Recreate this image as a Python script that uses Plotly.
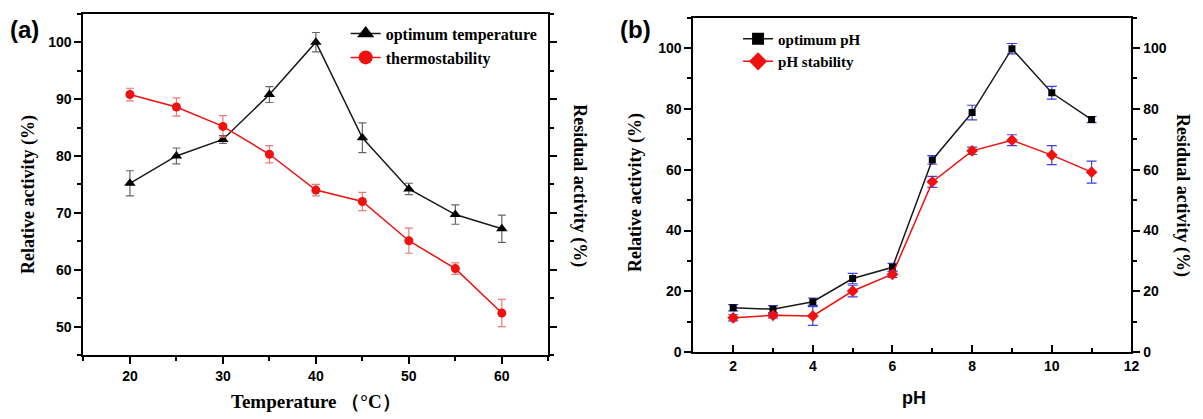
import plotly.graph_objects as go

# ---------------- data: panel (a) ----------------
temp = [20, 25, 30, 35, 40, 45, 50, 55, 60]
opt_temp = [75.2, 80.0, 82.9, 90.8, 100.0, 83.2, 74.2, 69.7, 67.2]
opt_temp_err = [2.2, 1.4, 0.7, 1.4, 1.7, 2.6, 1.0, 1.7, 2.4]
thermo = [90.8, 88.6, 85.2, 80.3, 74.0, 72.0, 65.1, 60.2, 52.4]
thermo_err = [1.1, 1.6, 1.9, 1.5, 1.0, 1.6, 2.2, 1.0, 2.4]

# ---------------- data: panel (b) ----------------
ph = [2, 3, 4, 5, 6, 7, 8, 9, 10, 11]
opt_ph = [14.6, 14.1, 16.6, 24.2, 27.9, 63.2, 78.8, 99.8, 85.3, 76.5]
opt_ph_err = [1.0, 1.2, 1.2, 1.7, 1.3, 1.4, 2.4, 1.7, 2.1, 1.0]
ph_stab = [11.3, 12.1, 11.9, 20.1, 25.6, 56.0, 66.2, 69.7, 64.8, 59.2]
ph_stab_err = [1.0, 0.8, 3.1, 1.9, 1.0, 1.8, 1.2, 1.8, 3.1, 3.6]

BLACK = "#1a1a1a"
RED = "#f01010"
SERIF = "Liberation Serif"
SANS = "Liberation Sans"

fig = go.Figure()

# panel (a) data traces
fig.add_trace(go.Scatter(
    x=temp, y=opt_temp, mode="lines+markers", xaxis="x", yaxis="y",
    line=dict(color=BLACK, width=1.5),
    marker=dict(symbol="triangle-up", size=10, color="black"),
    error_y=dict(type="data", array=opt_temp_err, color="#666666", thickness=1.2, width=4),
    showlegend=False))
fig.add_trace(go.Scatter(
    x=temp, y=thermo, mode="lines+markers", xaxis="x", yaxis="y2",
    line=dict(color=RED, width=1.5),
    marker=dict(symbol="circle", size=9, color=RED),
    error_y=dict(type="data", array=thermo_err, color="#ea7a7a", thickness=1.2, width=4),
    showlegend=False))
# panel (a) legend entries
fig.add_trace(go.Scatter(x=[None], y=[None], mode="lines+markers", xaxis="x", yaxis="y",
    name="optimum temperature", line=dict(color=BLACK, width=1.5),
    marker=dict(symbol="triangle-up", size=15, color="black"), legend="legend"))
fig.add_trace(go.Scatter(x=[None], y=[None], mode="lines+markers", xaxis="x", yaxis="y",
    name="thermostability", line=dict(color=RED, width=1.5),
    marker=dict(symbol="circle", size=14, color=RED), legend="legend"))

# panel (b) data traces
fig.add_trace(go.Scatter(
    x=ph, y=opt_ph, mode="lines+markers", xaxis="x2", yaxis="y3",
    line=dict(color=BLACK, width=1.5),
    marker=dict(symbol="square", size=7, color="black"),
    error_y=dict(type="data", array=opt_ph_err, color="#4040e0", thickness=1.2, width=5),
    showlegend=False))
fig.add_trace(go.Scatter(
    x=ph, y=ph_stab, mode="lines+markers", xaxis="x2", yaxis="y4",
    line=dict(color=RED, width=1.5),
    marker=dict(symbol="diamond", size=9, color=RED),
    error_y=dict(type="data", array=ph_stab_err, color="#4040e0", thickness=1.2, width=5),
    showlegend=False))
fig.add_trace(go.Scatter(x=[None], y=[None], mode="lines+markers", xaxis="x2", yaxis="y3",
    name="optimum pH", line=dict(color=BLACK, width=1.5),
    marker=dict(symbol="square", size=12, color="black"), legend="legend2"))
fig.add_trace(go.Scatter(x=[None], y=[None], mode="lines+markers", xaxis="x2", yaxis="y3",
    name="pH stability", line=dict(color=RED, width=1.5),
    marker=dict(symbol="diamond", size=14, color=RED), legend="legend2"))

W, H = 1203, 419
tickfont = dict(family=SANS, size=14, color="black", weight="bold")
common = dict(showline=True, linecolor="black", linewidth=2, showgrid=False,
              zeroline=False, tickfont=tickfont, tickwidth=2, tickcolor="black")

def px_x(p):
    return p / W

def px_y(p):
    return 1 - p / H

fig.update_layout(
    width=W, height=H, margin=dict(l=0, r=0, t=0, b=0),
    paper_bgcolor="white", plot_bgcolor="white",
    xaxis=dict(domain=[px_x(84), px_x(552)], range=[15, 65], anchor="y",
               tick0=0, dtick=10, ticks="outside", ticklen=7, mirror=True,
               minor=dict(dtick=5, tick0=0, ticks="outside", ticklen=4, tickwidth=2, tickcolor="black"),
               **common),
    yaxis=dict(domain=[px_y(362), px_y(14)], range=[45, 105], anchor="x",
               tick0=0, dtick=10, ticks="outside", ticklen=7,
               minor=dict(dtick=5, tick0=0, ticks="outside", ticklen=4, tickwidth=2, tickcolor="black"),
               **common),
    yaxis2=dict(overlaying="y", side="right", range=[45, 105], anchor="x",
                tick0=0, dtick=10, ticks="outside", ticklen=7, showticklabels=False,
                minor=dict(dtick=5, tick0=0, ticks="outside", ticklen=4, tickwidth=2, tickcolor="black"),
                **common),
    xaxis2=dict(domain=[px_x(698), px_x(1139)], range=[1, 12], anchor="y3",
                tick0=0, dtick=2, ticks="inside", ticklen=7, mirror=True,
                minor=dict(dtick=1, tick0=0, ticks="inside", ticklen=4, tickwidth=2, tickcolor="black"),
                **common),
    yaxis3=dict(domain=[px_y(359), px_y(18)], range=[0, 110], anchor="x2",
                tick0=0, dtick=20, ticks="outside", ticklen=7,
                minor=dict(dtick=10, tick0=0, ticks="outside", ticklen=4, tickwidth=2, tickcolor="black"),
                **common),
    yaxis4=dict(overlaying="y3", side="right", range=[0, 110], anchor="x2",
                tick0=0, dtick=20, ticks="outside", ticklen=7,
                minor=dict(dtick=10, tick0=0, ticks="outside", ticklen=4, tickwidth=2, tickcolor="black"),
                **common),
    legend=dict(x=px_x(348), y=px_y(17), xanchor="left", yanchor="top",
                bgcolor="rgba(0,0,0,0)", borderwidth=0, tracegroupgap=0,
                font=dict(family=SERIF, size=16, color="black", weight="bold")),
    legend2=dict(x=px_x(743), y=px_y(23), xanchor="left", yanchor="top",
                 bgcolor="rgba(0,0,0,0)", borderwidth=0, tracegroupgap=0,
                 font=dict(family=SERIF, size=15, color="black", weight="bold")),
)

title_font = dict(family=SERIF, size=18, color="black", weight="bold")
ann = [
    dict(text="(a)", x=px_x(25), y=px_y(30), font=dict(family=SANS, size=24, color="black", weight="bold")),
    dict(text="(b)", x=px_x(640), y=px_y(30), font=dict(family=SANS, size=24, color="black", weight="bold")),
    dict(text="Relative activity (%)", x=px_x(28), y=px_y(198), textangle=-90, font=title_font),
    dict(text="Residual activity (%)", x=px_x(583), y=px_y(189), textangle=90, font=title_font),
    dict(text="Temperature （°C）", x=px_x(318), y=px_y(409),
         font=dict(family=SERIF, size=19, color="black", weight="bold")),
    dict(text="Relative activity (%)", x=px_x(640), y=px_y(196), textangle=-90, font=title_font),
    dict(text="Residual activity (%)", x=px_x(1191), y=px_y(199), textangle=90, font=title_font),
    dict(text="pH", x=px_x(920), y=px_y(406), font=dict(family=SANS, size=18, color="black", weight="bold")),
]
for a in ann:
    a.update(xref="paper", yref="paper", showarrow=False, xanchor="center", yanchor="middle")
fig.update_layout(annotations=ann)

fig.write_html("out.html", config={"displayModeBar": False},
               post_script="document.body.style.margin='0';document.body.style.overflow='hidden';")
